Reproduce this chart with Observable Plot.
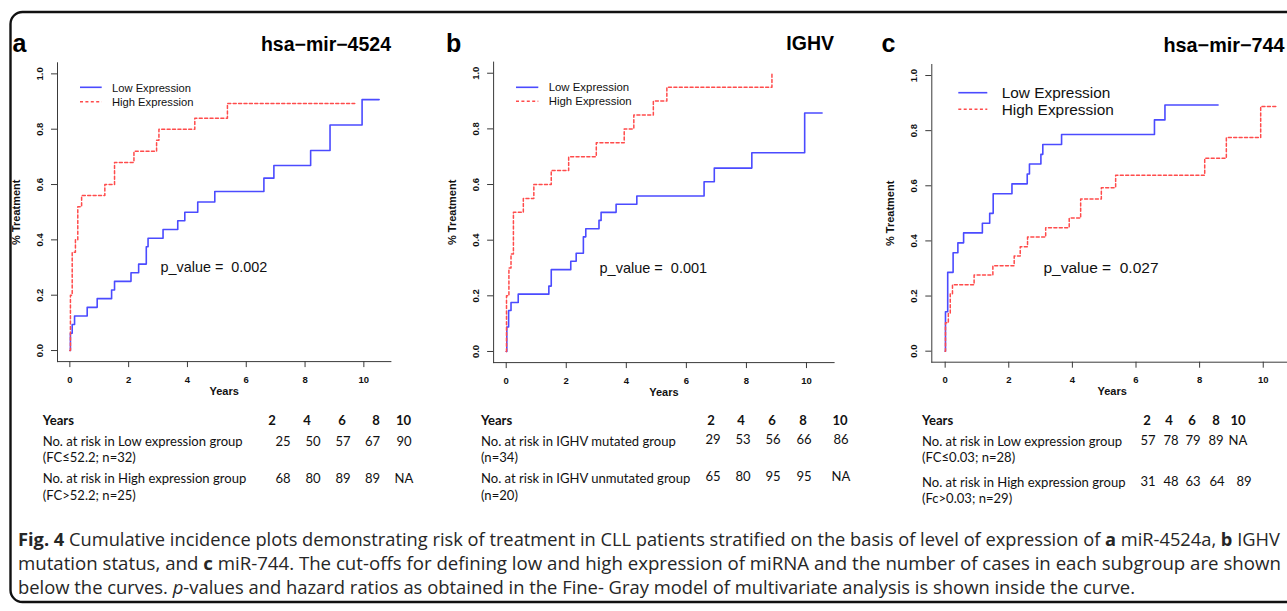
<!DOCTYPE html>
<html><head><meta charset="utf-8">
<script src="https://cdn.jsdelivr.net/npm/d3@7"></script>
<script src="https://cdn.jsdelivr.net/npm/@observablehq/plot@0.6"></script>
<style>
html,body{margin:0;padding:0;background:#fff;overflow:hidden;}
#root{position:relative;width:1287px;height:611px;overflow:hidden;background:#fff;}
#root > svg{position:absolute;}
</style></head><body><div id="root"></div>
<script>
// ---------- data ----------
const xTicks = [0, 2, 4, 6, 8, 10];
const yTicks = [0, 0.2, 0.4, 0.6, 0.8, 1.0];
const panelLetters = ["a", "b", "c"];
const panelTitles = ["hsa\u2212mir\u22124524", "IGHV", "hsa\u2212mir\u2212744"];
const legendLabels = ["Low Expression", "High Expression"];
const pValues = ["0.002", "0.001", "0.027"];

// panel a (hsa-mir-4524)
const aLowT  = [0, 0.02, 0.08, 0.16, 0.59, 0.93, 1.42, 1.52, 2.08, 2.34, 2.6, 2.66, 3.17, 3.67, 3.91, 4.35, 4.93, 6.6, 6.94, 8.19, 8.85, 9.94, 10.52];
const aLowV  = [0, 0.0625, 0.094, 0.125, 0.156, 0.1875, 0.219, 0.25, 0.281, 0.3125, 0.375, 0.406, 0.4375, 0.469, 0.50, 0.537, 0.575, 0.623, 0.669, 0.723, 0.815, 0.907, 0.907];
const aHighT = [0, 0.02, 0.08, 0.19, 0.27, 0.4, 1.19, 1.52, 2.18, 2.95, 3.03, 4.25, 5.36, 9.69];
const aHighV = [0, 0.2, 0.355, 0.40, 0.52, 0.56, 0.60, 0.68, 0.72, 0.76, 0.80, 0.84, 0.893, 0.893];
// panel b (IGHV)
const bLowT  = [0, 0.02, 0.08, 0.16, 0.4, 1.42, 1.5, 2.15, 2.33, 2.57, 2.65, 3.09, 3.16, 3.66, 4.35, 6.59, 6.93, 8.18, 9.94, 10.52];
const bLowV  = [0, 0.088, 0.147, 0.176, 0.206, 0.235, 0.294, 0.324, 0.353, 0.412, 0.441, 0.471, 0.50, 0.529, 0.559, 0.61, 0.659, 0.714, 0.857, 0.857];
const bHighT = [0, 0.01, 0.09, 0.16, 0.24, 0.57, 0.92, 1.5, 2.08, 3.0, 3.93, 4.25, 4.9, 5.35, 8.85];
const bHighV = [0, 0.2, 0.3, 0.35, 0.5, 0.55, 0.6, 0.65, 0.7, 0.75, 0.8, 0.85, 0.9, 0.95, 1.0];
// panel c (hsa-mir-744)
const cLowT  = [0, 0.01, 0.08, 0.25, 0.4, 0.58, 1.17, 1.4, 1.51, 2.1, 2.58, 2.65, 3.01, 3.07, 3.66, 6.58, 6.91, 8.58];
const cLowV  = [0, 0.143, 0.286, 0.357, 0.393, 0.429, 0.464, 0.50, 0.571, 0.607, 0.643, 0.679, 0.714, 0.75, 0.786, 0.839, 0.893, 0.893];
const cHighT = [0, 0.01, 0.1, 0.16, 0.23, 0.91, 1.5, 2.17, 2.36, 2.59, 3.16, 3.9, 4.26, 4.91, 5.36, 8.16, 8.84, 9.92, 10.44];
const cHighV = [0, 0.103, 0.138, 0.207, 0.241, 0.276, 0.31, 0.345, 0.379, 0.414, 0.448, 0.483, 0.552, 0.593, 0.638, 0.70, 0.775, 0.888, 0.888];

// risk tables
const tableYears = ["2", "4", "6", "8", "10"];
const aRowLabels = [["No. at risk in Low expression group", "(FC\u226452.2; n=32)"], ["No. at risk in High expression group", "(FC>52.2; n=25)"]];
const aRowValues = [["25", "50", "57", "67", "90"], ["68", "80", "89", "89", "NA"]];
const bRowLabels = [["No. at risk in IGHV mutated group", "(n=34)"], ["No. at risk in IGHV unmutated group", "(n=20)"]];
const bRowValues = [["29", "53", "56", "66", "86"], ["65", "80", "95", "95", "NA"]];
const cRowLabels = [["No. at risk in Low expression group", "(FC\u22640.03; n=28)"], ["No. at risk in High expression group", "(Fc>0.03; n=29)"]];
const cRowValues = [["57", "78", "79", "89", "NA"], ["31", "48", "63", "64", "89"]];

const captionLines = [
  [["Fig. 4", "b"], [" Cumulative incidence plots demonstrating risk of treatment in CLL patients stratified on the basis of level of expression of ", ""], ["a", "b"], [" miR-4524a, ", ""], ["b", "b"], [" IGHV", ""]],
  [["mutation status, and ", ""], ["c", "b"], [" miR-744. The cut-offs for defining low and high expression of miRNA and the number of cases in each subgroup are shown", ""]],
  [["below the curves. ", ""], ["p", "i"], ["-values and hazard ratios as obtained in the Fine- Gray model of multivariate analysis is shown inside the curve.", ""]]
];

// ---------- styles / layout ----------
const BLUE = "#4b4bff", RED = "#ff4b4b";
const SANS = "'Liberation Sans', Arial, Helvetica, sans-serif";
const root = document.getElementById("root");

const panels = [
  {lowT: aLowT, lowV: aLowV, highT: aHighT, highV: aHighV, left: 0, w: 440, mL: 57, mR: 49.6, mT: 62.3, mB: 38.9, pSize: 14.4},
  {lowT: bLowT, lowV: bLowV, highT: bHighT, highV: bHighV, left: 440, w: 430, mL: 53.1, mR: 36.4, mT: 61.6, mB: 37.9, pSize: 14.5},
  {lowT: cLowT, lowV: cLowV, highT: cHighT, highV: cHighV, left: 880, w: 420, mL: 51.3, mR: 8, mT: 64, mB: 38.3, pSize: 15.5}
];

panels.forEach((p, k) => {
  const low = p.lowT.map((t, i) => ({t, v: p.lowV[i]}));
  const high = p.highT.map((t, i) => ({t, v: p.highV[i]}));
  const svg = Plot.plot({
    width: p.w, height: 400,
    marginLeft: p.mL, marginRight: p.mR, marginTop: p.mT, marginBottom: p.mB,
    x: {domain: [-0.42, 10.92], ticks: xTicks, tickSize: 6, tickFormat: () => "", line: true, label: null},
    y: {domain: [-0.04, 1.04], ticks: yTicks, tickSize: 6, tickFormat: () => "", line: true, label: null},
    style: {fontFamily: SANS, fontSize: "9.5px", fontWeight: "bold", color: "#3a3a3a", background: "transparent", overflow: "visible"},
    marks: [
      Plot.line(low, {x: "t", y: "v", curve: "step-after", stroke: BLUE, strokeWidth: 1.6}),
      Plot.line(high, {x: "t", y: "v", curve: "step-after", stroke: RED, strokeWidth: 1.5, strokeDasharray: "3,2.4"}),
      Plot.text(xTicks, {x: d => d, frameAnchor: "bottom", dy: 18, text: d => String(d), lineAnchor: "middle", fill: "#111"}),
      Plot.text(yTicks, {y: d => d, frameAnchor: "left", dx: -17.5, rotate: -90, text: d => d.toFixed(1), textAnchor: "middle", lineAnchor: "middle", fill: "#111"}),
      Plot.text(["Years"], {frameAnchor: "bottom", dy: 29.5, text: d => d, fontSize: 11, lineAnchor: "middle", fill: "#111"}),
      Plot.text(["% Treatment"], {frameAnchor: "left", dx: -41, rotate: -90, text: d => d, fontSize: 11, textAnchor: "middle", lineAnchor: "middle", fill: "#111"}),
      Plot.text([pValues[k]], {x: 4.9, y: 0.3, text: d => "p_value =\u00a0 " + d, fontSize: p.pSize, fontWeight: "normal", textAnchor: "middle", lineAnchor: "middle", fill: "#111"})
    ]
  });
  svg.style.left = p.left + "px";
  svg.style.top = "0px";
  root.appendChild(svg);
});

// ---------- overlay annotations ----------
const ov = d3.select(root).append("svg")
  .attr("width", 1287).attr("height", 611)
  .style("left", "0px").style("top", "0px").style("pointer-events", "none");

// rounded border
ov.append("rect").attr("x", 10.5).attr("y", 12).attr("width", 1400).attr("height", 590)
  .attr("rx", 12).attr("fill", "none").attr("stroke", "#111").attr("stroke-width", 2.4);

// panel letters and titles
const letterX = [12.5, 446, 881.5];
panelLetters.forEach((l, i) => ov.append("text").attr("x", letterX[i]).attr("y", 51.7)
  .attr("font-family", SANS).attr("font-weight", "bold").attr("font-size", 25).attr("fill", "#000").text(l));
const titlePos = [{x: 391, y: 50.7, a: "end", fs: 19.5}, {x: 834, y: 50.3, a: "end", fs: 19.5}, {x: 1284.5, y: 52, a: "end", fs: 19.8}];
panelTitles.forEach((t, i) => ov.append("text").attr("x", titlePos[i].x).attr("y", titlePos[i].y)
  .attr("text-anchor", titlePos[i].a).attr("font-family", SANS).attr("font-weight", "bold")
  .attr("font-size", titlePos[i].fs).attr("fill", "#000").text(t));

// legends
const legendPos = [
  {x1: 80, x2: 101.7, tx: 112, ly: [87.3, 101.7], ty: [91.6, 106], fs: 11.2},
  {x1: 516, x2: 538.3, tx: 548.7, ly: [87.3, 101.3], ty: [91.2, 105.4], fs: 11.4},
  {x1: 958.3, x2: 987.3, tx: 1001.7, ly: [92.7, 109.3], ty: [98, 115.2], fs: 15.4}
];
legendPos.forEach(L => {
  legendLabels.forEach((lab, j) => {
    ov.append("line").attr("x1", L.x1).attr("x2", L.x2).attr("y1", L.ly[j]).attr("y2", L.ly[j])
      .attr("stroke", j === 0 ? BLUE : RED).attr("stroke-width", j === 0 ? 1.6 : 1.5)
      .attr("stroke-dasharray", j === 0 ? null : "3,2.4");
    ov.append("text").attr("x", L.tx).attr("y", L.ty[j]).attr("font-family", SANS)
      .attr("font-size", L.fs).attr("fill", "#111").text(lab);
  });
});

// risk tables
const TFONT = "Lato, 'Open Sans', sans-serif";
const tables = [
  {labels: aRowLabels, values: aRowValues, x0: 42.7, hy: 425.3, hx: [272, 307, 342, 376, 403.5],
   vx: [[283, 313, 343, 372.5, 404], [283, 313, 343, 372.5, 404]], ly: [[445.7, 462], [483.3, 500]], vy: [445.7, 483.3]},
  {labels: bRowLabels, values: bRowValues, x0: 481, hy: 425.3, hx: [711, 741, 772, 803, 840],
   vx: [[713, 743, 773, 804, 841], [713, 743, 773, 804, 841]], ly: [[446, 462.5], [483.5, 500]], vy: [444.5, 481.5]},
  {labels: cRowLabels, values: cRowValues, x0: 922, hy: 425.3, hx: [1147, 1169, 1192, 1216, 1238],
   vx: [[1148, 1171, 1193, 1216, 1238], [1148, 1171, 1193, 1217, 1244]], ly: [[445.7, 462], [487, 503.5]], vy: [445, 486.5]}
];
const tableTexts = [];
function ttext(x, y, s, anchor, bold) {
  const t = ov.append("text").attr("x", x).attr("y", y).attr("text-anchor", anchor)
    .attr("font-family", TFONT).attr("font-size", 13.2).attr("font-weight", bold ? "bold" : "normal")
    .attr("fill", "#111").text(s);
  tableTexts.push(t.node());
  return t;
}
tables.forEach(T => {
  ttext(T.x0, T.hy, "Years", "start", true);
  tableYears.forEach((y, i) => ttext(T.hx[i], T.hy, y, "middle", true));
  T.labels.forEach((rows, r) => rows.forEach((s, j) => ttext(T.x0, T.ly[r][j], s, "start", false)));
  T.values.forEach((row, r) => row.forEach((v, i) => ttext(T.vx[r][i], T.vy[r], v, "middle", false)));
});
// horizontal compression so the label widths match the reference
const refLabel = tableTexts.find(n => n.textContent === aRowLabels[0][0]);
const kT = 200 / refLabel.getBBox().width;
tableTexts.forEach(n => {
  const bb = n.getBBox();
  const cx = n.getAttribute("text-anchor") === "middle" ? bb.x + bb.width / 2 : +n.getAttribute("x");
  n.setAttribute("transform", `translate(${cx},0) scale(${kT},1) translate(${-cx},0)`);
});

// caption
const capY = [546.5, 570.5, 594.5];
const capW = [1263, 1263, 1118];
captionLines.forEach((segs, i) => {
  const t = ov.append("text").attr("x", 18).attr("y", capY[i]).attr("font-family", "'Open Sans', Lato, sans-serif")
    .attr("font-size", 18).attr("fill", "#262626");
  segs.forEach(([s, st]) => {
    const ts = t.append("tspan").text(s);
    if (st === "b") ts.attr("font-weight", "bold");
    if (st === "i") ts.attr("font-style", "italic");
  });
  t.attr("xml:space", "preserve").style("white-space", "pre");
  const w = t.node().getBBox().width;
  const k = capW[i] / w;
  t.attr("transform", `translate(18,0) scale(${k},1) translate(-18,0)`);
});
</script>
</body></html>
